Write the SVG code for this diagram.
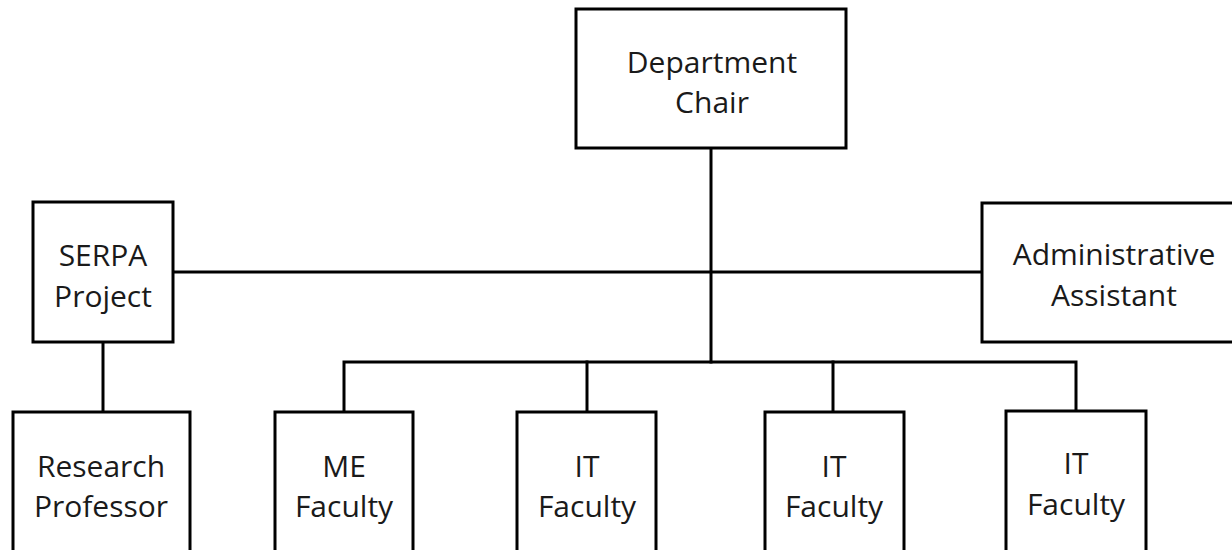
<svg xmlns="http://www.w3.org/2000/svg" width="1232" height="550" viewBox="0 0 1232 550">
<style>
.box{fill:#fff;stroke:#000;stroke-width:3}
.ln{fill:none;stroke:#000;stroke-width:3;stroke-linecap:square}
text{font-family:"Open Sans","Noto Sans",sans-serif;font-size:30px;fill:#1a1a1a;text-anchor:middle}
</style>
<rect width="1232" height="550" fill="#fff"/>
<g id="connectors">
<path class="ln" d="M711 148 V362"/>
<path class="ln" d="M173 272 H982"/>
<path class="ln" d="M103 342 V412"/>
<path class="ln" d="M344 412 V362 H1076 V412"/>
<path class="ln" d="M587 362 V412"/>
<path class="ln" d="M833 362 V412"/>
</g>
<g id="chair"><rect class="box" x="576" y="9" width="270" height="139"/><text x="712" y="73">Department</text><text x="712" y="113">Chair</text></g>
<g id="serpa"><rect class="box" x="33" y="202" width="140" height="140"/><text x="103" y="266">SERPA</text><text x="103" y="307">Project</text></g>
<g id="admin"><rect class="box" x="982" y="203" width="262" height="139"/><text x="1114" y="265">Administrative</text><text x="1114" y="306">Assistant</text></g>
<g id="research"><rect class="box" x="13" y="412" width="177" height="150"/><text x="101" y="477">Research</text><text x="101" y="517">Professor</text></g>
<g id="me"><rect class="box" x="275" y="412" width="138" height="150"/><text x="344" y="477">ME</text><text x="344" y="517">Faculty</text></g>
<g id="it1"><rect class="box" x="517" y="412" width="139" height="150"/><text x="587" y="477">IT</text><text x="587" y="517">Faculty</text></g>
<g id="it2"><rect class="box" x="765" y="412" width="139" height="150"/><text x="834" y="477">IT</text><text x="834" y="517">Faculty</text></g>
<g id="it3"><rect class="box" x="1006" y="411" width="140" height="150"/><text x="1076" y="474">IT</text><text x="1076" y="515">Faculty</text></g>
</svg>
